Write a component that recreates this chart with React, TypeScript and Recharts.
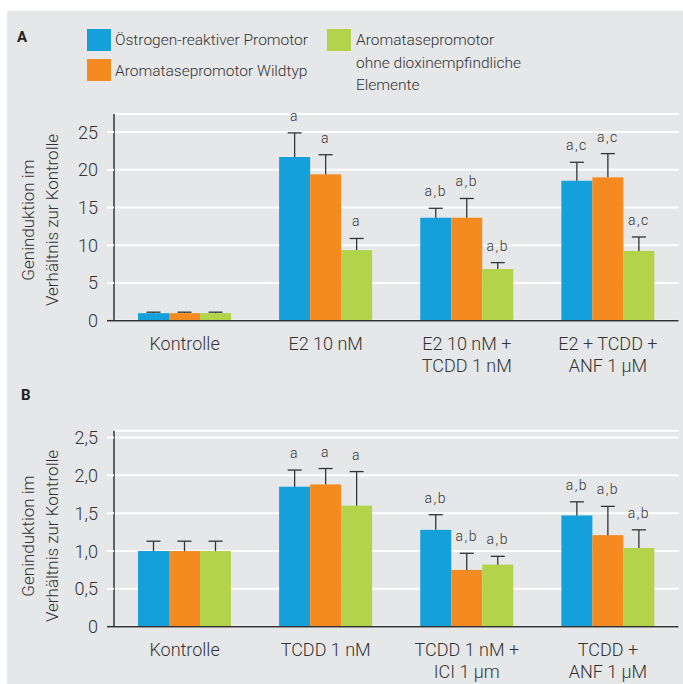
import React from "react";
import { Bar, BarChart, CartesianGrid, XAxis, YAxis } from "recharts";

const FONT = "Roboto, 'Liberation Sans', sans-serif";
const INK = "#333333";
const BLUE = "#14a0da";
const ORANGE = "#f58b20";
const GREEN = "#b2d34a";
const PANEL_BG = "#e6e7e9";

const SERIES_NAMES = [
  "Östrogen-reaktiver Promotor",
  "Aromatasepromotor Wildtyp",
  "Aromatasepromotor\nohne dioxinempfindliche\nElemente",
];

// Panel A
const CATS_A = ["Kontrolle", "E2 10 nM", "E2 10 nM +\nTCDD 1 nM", "E2 + TCDD +\nANF 1 µM"];
const BLUE_A = [1.0, 21.7, 13.65, 18.55];
const BLUE_ERR_A = [0.13, 3.2, 1.25, 2.45];
const ORANGE_A = [1.0, 19.4, 13.65, 19.0];
const ORANGE_ERR_A = [0.13, 2.6, 2.55, 3.15];
const GREEN_A = [1.0, 9.35, 6.85, 9.25];
const GREEN_ERR_A = [0.13, 1.55, 0.85, 1.85];
const SIG_A = [
  ["", "", ""],
  ["a", "a", "a"],
  ["a,b", "a,b", "a,b"],
  ["a,c", "a,c", "a,c"],
];
const TICKS_A = [0, 5, 10, 15, 20, 25];

// Panel B
const CATS_B = ["Kontrolle", "TCDD 1 nM", "TCDD 1 nM +\nICI 1 µm", "TCDD +\nANF 1 µM"];
const BLUE_B = [1.0, 1.85, 1.28, 1.47];
const BLUE_ERR_B = [0.13, 0.22, 0.2, 0.18];
const ORANGE_B = [1.0, 1.88, 0.75, 1.21];
const ORANGE_ERR_B = [0.13, 0.21, 0.22, 0.38];
const GREEN_B = [1.0, 1.6, 0.82, 1.04];
const GREEN_ERR_B = [0.13, 0.45, 0.11, 0.24];
const SIG_B = [
  ["", "", ""],
  ["a", "a", "a"],
  ["a,b", "a,b", "a,b"],
  ["a,b", "a,b", "a,b"],
];
const TICKS_B = [0, 0.5, 1.0, 1.5, 2.0, 2.5];

function buildRows(cats: string[], vals: number[][], errs: number[][], sig: string[][]) {
  return cats.map((name, i) => ({
    name,
    s0: vals[0][i], s1: vals[1][i], s2: vals[2][i],
    e0: errs[0][i], e1: errs[1][i], e2: errs[2][i],
    l0: sig[i][0], l1: sig[i][1], l2: sig[i][2],
  }));
}

const ROWS_A = buildRows(CATS_A, [BLUE_A, ORANGE_A, GREEN_A], [BLUE_ERR_A, ORANGE_ERR_A, GREEN_ERR_A], SIG_A);
const ROWS_B = buildRows(CATS_B, [BLUE_B, ORANGE_B, GREEN_B], [BLUE_ERR_B, ORANGE_ERR_B, GREEN_ERR_B], SIG_B);

// bar + one-sided error bar + significance letters
function BarWithError(props: any) {
  const { x, y, width, height, fill, payload, k } = props;
  const v = payload[`s${k}`];
  const err = payload[`e${k}`];
  const lbl = payload[`l${k}`];
  const ppu = v > 0 ? height / v : 0;
  const top = y - err * ppu;
  const cx = x + width / 2;
  return (
    <g>
      <rect x={x} y={y} width={width} height={height} fill={fill} />
      <line x1={cx} y1={y} x2={cx} y2={top} stroke={INK} strokeWidth={1.3} />
      <line x1={cx - 7} y1={top} x2={cx + 7} y2={top} stroke={INK} strokeWidth={1.3} />
      {lbl && (
        <text x={cx} y={top - 12} textAnchor="middle" fontSize={14} fontWeight={300} fill={INK} fontFamily={FONT} letterSpacing={1.5}>
          {lbl}
        </text>
      )}
    </g>
  );
}

function YTick(props: any) {
  const { x, y, payload, fmt } = props;
  const zero = payload.value === 0;
  return (
    <g>
      <line x1={x - 7} y1={y} x2={x} y2={y} stroke={zero ? INK : "#ffffff"} strokeWidth={zero ? 1.5 : 2} />
      <text x={x - 16} y={y + 6.5} textAnchor="end" fontSize={18} fontWeight={300} fill={INK} fontFamily={FONT}>
        {fmt(payload.value)}
      </text>
    </g>
  );
}

function XTick(props: any) {
  const { x, y, payload } = props;
  const lines = String(payload.value).split("\n");
  return (
    <g>
      {lines.map((t, i) => (
        <text key={i} x={x} y={y + 29.5 + i * 22} textAnchor="middle" fontSize={18} fontWeight={300} fill={INK} fontFamily={FONT}>
          {t}
        </text>
      ))}
    </g>
  );
}

const fmtA = (v: number) => String(v);
const fmtB = (v: number) => (v === 0 ? "0" : v.toFixed(1).replace(".", ","));

function Panel({ rows, ticks, domainMax, fmt, height, marginTop, marginBottom }: any) {
  const colors = [BLUE, ORANGE, GREEN];
  return (
    <BarChart
      width={683}
      height={height}
      data={rows}
      margin={{ top: marginTop, right: 4.5, bottom: marginBottom, left: 54 }}
      barGap={0}
      barSize={31}
    >
      <CartesianGrid vertical={false} stroke="#ffffff" strokeWidth={2} />
      <XAxis
        dataKey="name"
        height={50}
        axisLine={{ stroke: INK, strokeWidth: 1.5 }}
        tickLine={false}
        tickSize={0}
        tickMargin={0}
        interval={0}
        tick={<XTick />}
      />
      <YAxis
        width={60}
        domain={[0, domainMax]}
        ticks={ticks}
        interval={0}
        axisLine={{ stroke: INK, strokeWidth: 1.5 }}
        tickLine={false}
        tickSize={0}
        tickMargin={0}
        tick={<YTick fmt={fmt} />}
      />
      {colors.map((c, k) => (
        <Bar
          key={k}
          dataKey={`s${k}`}
          fill={c}
          isAnimationActive={false}
          shape={(p: any) => <BarWithError {...p} k={k} />}
        />
      ))}
    </BarChart>
  );
}

function YTitle({ cy }: { cy: number }) {
  return (
    <div
      style={{
        position: "absolute",
        left: 40 - 130,
        top: cy - 24,
        width: 260,
        height: 48,
        lineHeight: "24px",
        fontSize: 17,
        fontWeight: 300,
        textAlign: "center",
        color: INK,
        transform: "rotate(-90deg)",
        transformOrigin: "center",
        whiteSpace: "nowrap",
      }}
    >
      Geninduktion im
      <br />
      Verhältnis zur Kontrolle
    </div>
  );
}

function Swatch({ left, top, color }: { left: number; top: number; color: string }) {
  return <div style={{ position: "absolute", left, top, width: 24, height: 22, background: color }} />;
}

const legendText: React.CSSProperties = {
  position: "absolute",
  fontSize: 15.5,
  fontWeight: 300,
  lineHeight: "22.5px",
  color: INK,
  whiteSpace: "pre-line",
};

export default function App() {
  return (
    <div
      style={{
        position: "absolute",
        left: 0,
        top: 0,
        width: 683,
        height: 684,
        background: "#ffffff",
        fontFamily: FONT,
        overflow: "hidden",
      }}
    >
      <div style={{ position: "absolute", left: 7, top: 11, width: 676, height: 673, background: PANEL_BG }} />

      {/* Panel A */}
      <div style={{ position: "absolute", left: 0, top: 0 }}>
        <Panel rows={ROWS_A} ticks={TICKS_A} domainMax={27.4} fmt={fmtA} height={380} marginTop={114} marginBottom={9.3} />
      </div>
      <div style={{ position: "absolute", left: 17, top: 28, fontSize: 15, fontWeight: 700, color: "#222" }}>A</div>
      <YTitle cy={220} />

      {/* legend */}
      <Swatch left={87} top={29} color={BLUE} />
      <Swatch left={87} top={59} color={ORANGE} />
      <Swatch left={327} top={29} color={GREEN} />
      <div style={{ ...legendText, left: 115, top: 29 }}>{SERIES_NAMES[0]}</div>
      <div style={{ ...legendText, left: 115, top: 60 }}>{SERIES_NAMES[1]}</div>
      <div style={{ ...legendText, left: 356, top: 29 }}>{SERIES_NAMES[2]}</div>

      {/* Panel B */}
      <div style={{ position: "absolute", left: 0, top: 380 }}>
        <Panel rows={ROWS_B} ticks={TICKS_B} domainMax={2.59} fmt={fmtB} height={304} marginTop={50.7} marginBottom={7.3} />
      </div>
      <div style={{ position: "absolute", left: 21, top: 386, fontSize: 15, fontWeight: 700, color: "#222" }}>B</div>
      <YTitle cy={536} />
    </div>
  );
}
